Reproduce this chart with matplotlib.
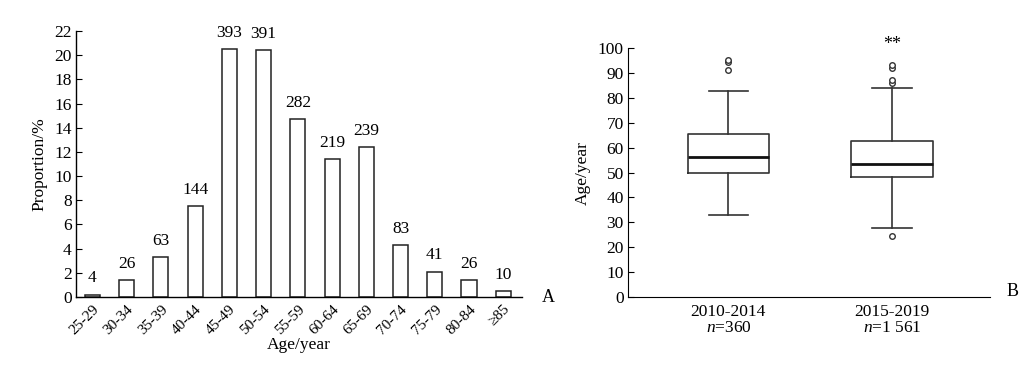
import numpy as np
import matplotlib.pyplot as plt

plt.rcParams['font.family'] = ['Liberation Serif', 'DejaVu Serif']
plt.rcParams['mathtext.fontset'] = 'custom'
plt.rcParams['mathtext.rm'] = 'Liberation Serif'
plt.rcParams['mathtext.it'] = 'Liberation Serif:italic'

# panel A: age groups
age_groups = ['25-29', '30-34', '35-39', '40-44', '45-49', '50-54', '55-59',
              '60-64', '65-69', '70-74', '75-79', '80-84', '≥85']
counts = [4, 26, 63, 144, 393, 391, 282, 219, 239, 83, 41, 26, 10]
proportion = [0.2, 1.4, 3.3, 7.5, 20.5, 20.4, 14.7, 11.4, 12.4, 4.3, 2.1, 1.4, 0.5]

# panel B: box plot summaries
periods = ['2010-2014\n$\\it{n}$=360', '2015-2019\n$\\it{n}$=1 561']
q1 = [49.7, 48.3]
med = [56.1, 53.5]
q3 = [65.4, 62.8]
whislo = [32.8, 27.8]
whishi = [82.8, 83.9]
fliers = [[91.1, 94.5, 95.3], [24.6, 86.2, 87.4, 92.0, 93.3]]

fs = 12.5

fig = plt.figure(figsize=(10.21, 3.66), dpi=100)

# ---- A ----
ax1 = fig.add_axes([0.0744, 0.1885, 0.4366, 0.7265])
x = np.arange(len(age_groups))
bars = ax1.bar(x, proportion, width=0.44, color='white', edgecolor='#222222', linewidth=1.1)
ax1.bar_label(bars, labels=[str(c) for c in counts], padding=6, fontsize=fs)
ax1.set_xlim(-0.48, 12.54)
ax1.set_ylim(0, 22)
ax1.set_yticks(range(0, 23, 2))
ax1.set_xticks(x)
ax1.set_xticklabels(age_groups, rotation=45, ha='right', rotation_mode='anchor', fontsize=11,
                    family=['Liberation Serif', 'DejaVu Sans'])
ax1.tick_params(axis='y', direction='in', length=4, labelsize=fs, pad=3)
ax1.tick_params(axis='x', length=0, pad=4)
for s in ['top', 'right']:
    ax1.spines[s].set_visible(False)
ax1.spines['left'].set_linewidth(1.0)
ax1.spines['bottom'].set_linewidth(1.0)
ax1.set_ylabel('Proportion/%', fontsize=fs, labelpad=5)
ax1.set_xlabel('Age/year', fontsize=fs, labelpad=0)
ax1.text(1.045, 0.0, 'A', transform=ax1.transAxes, fontsize=13, va='center', ha='left')

# ---- B ----
ax2 = fig.add_axes([0.615, 0.189, 0.355, 0.679])
stats = []
for i in range(2):
    stats.append(dict(q1=q1[i], med=med[i], q3=q3[i], whislo=whislo[i],
                      whishi=whishi[i], fliers=fliers[i]))
ax2.bxp(stats, positions=[1, 2], widths=0.5, capwidths=0.24,
        boxprops=dict(color='#333333', linewidth=1.2),
        medianprops=dict(color='#111111', linewidth=2.0),
        whiskerprops=dict(color='#333333', linewidth=1.2),
        capprops=dict(color='#333333', linewidth=1.2),
        flierprops=dict(marker='o', markersize=4, markerfacecolor='white',
                        markeredgecolor='#333333', markeredgewidth=1.0))
ax2.text(2, 101.7, '**', ha='center', va='center', fontsize=13)
ax2.set_xlim(0.386, 2.60)
ax2.set_ylim(0, 100)
ax2.set_yticks(range(0, 101, 10))
ax2.set_xticks([1, 2])
ax2.set_xticklabels(periods, fontsize=fs, linespacing=1.05)
ax2.tick_params(axis='y', direction='in', length=4, labelsize=fs, pad=3)
ax2.tick_params(axis='x', length=0, pad=5)
for s in ['top', 'right']:
    ax2.spines[s].set_visible(False)
ax2.set_ylabel('Age/year', fontsize=fs, labelpad=5)
ax2.text(1.045, 0.02, 'B', transform=ax2.transAxes, fontsize=13, va='center', ha='left')

fig.savefig('out.png', dpi=100)
